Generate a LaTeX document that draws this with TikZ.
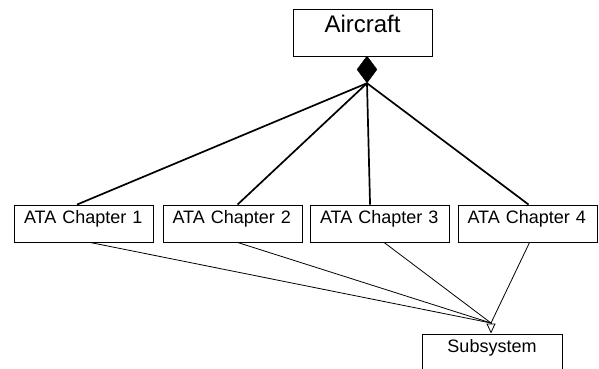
\documentclass[tikz,border=0pt]{standalone}
\usepackage{fontspec}
\setmainfont{Liberation Sans}
\usetikzlibrary{shapes.geometric,arrows.meta,calc}
\tikzset{
  chapbox/.style={draw,line width=0.9pt,inner ysep=0pt,inner xsep=9.5pt,minimum width=139pt,
    text width=120pt,align=left,text height=18pt,text depth=19pt,font=\fontsize{18}{20}\selectfont},
  topbox/.style={draw,line width=0.9pt,inner sep=0pt,minimum width=139pt,
    text height=24pt,text depth=23pt,font=\fontsize{24}{28}\selectfont},
  subbox/.style={draw,line width=0.9pt,inner sep=0pt,minimum width=140pt,
    text height=19pt,text depth=48pt,font=\fontsize{18}{20}\selectfont},
  agglink/.style={line width=1.7pt},
  genlink/.style={line width=0.8pt},
}
\begin{document}
\begin{tikzpicture}[x=1pt,y=-1pt]
\useasboundingbox (0,0) rectangle (599,369);
\node[topbox] (air) at (362.5,32.5) {Aircraft};
\node[diamond,fill=black,draw=black,inner sep=0pt,minimum width=20pt,minimum height=27pt] (agg) at (367,69.5) {};
\node[chapbox] (c1) at (84,223.5) {ATA Chapter 1};
\node[chapbox] (c2) at (232.5,223.5) {ATA Chapter 2};
\node[chapbox] (c3) at (380,223.5) {ATA Chapter 3};
\node[chapbox] (c4) at (527.5,223.5) {ATA Chapter 4};
\node[subbox,anchor=north] (sub) at (492,333.5) {Subsystem};
\coordinate (tb) at (491,323);
\draw[agglink] (agg.south) -- ($(c1.north west)+(63,0)$);
\draw[agglink] (agg.south) -- ($(c2.north west)+(75,0)$);
\draw[agglink] (agg.south) -- ($(c3.north west)+(60,0)$);
\draw[agglink] (agg.south) -- ($(c4.north west)+(71,0)$);
\draw[genlink] ($(c1.south west)+(76,0)$) -- (tb);
\draw[genlink] ($(c2.south west)+(75,0)$) -- (tb);
\draw[genlink] ($(c3.south west)+(74,0)$) -- (tb);
\draw[genlink] ($(c4.south west)+(72,0)$) -- (tb);
\draw[genlink,-{Triangle[open,length=10pt,width=9pt]}] (tb) -- (tb |- sub.north);
\end{tikzpicture}
\end{document}
